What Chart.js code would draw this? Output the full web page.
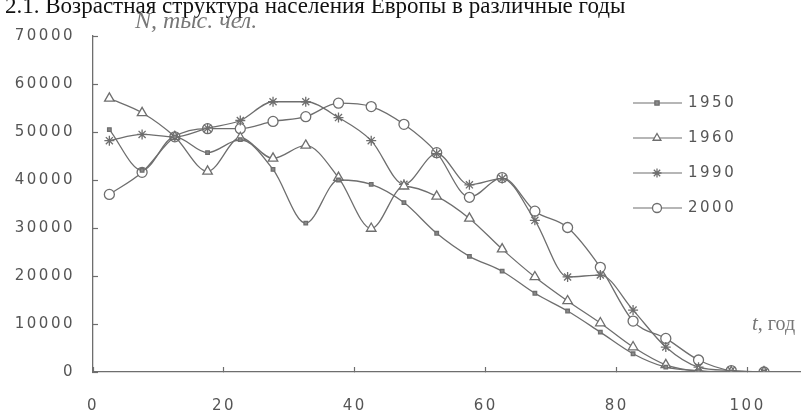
<!DOCTYPE html>
<html>
<head>
<meta charset="utf-8">
<script src="https://cdn.jsdelivr.net/npm/chart.js@4.4.1/dist/chart.umd.min.js"></script>
<style>
  html, body { margin: 0; padding: 0; background: #fff; }
  #wrap { width: 812px; height: 412px; position: relative; overflow: hidden; }
</style>
</head>
<body>
<div id="wrap"><canvas id="ageChart" width="812" height="412"></canvas></div>
<script>
// Age group midpoints, years
const ages = [2.5, 7.5, 12.5, 17.5, 22.5, 27.5, 32.5, 37.5, 42.5, 47.5, 52.5,
              57.5, 62.5, 67.5, 72.5, 77.5, 82.5, 87.5, 92.5, 97.5, 102.5];

const years = ['1950', '1960', '1990', '2000'];

// Population by age group, thousands
const pop1950 = [50500, 42000, 49000, 45700, 48400, 42200, 31000, 40000, 39100, 35300, 28900,
                 24100, 21000, 16400, 12700, 8300, 3800, 1000, 300, 0, 0];
const pop1960 = [57000, 54000, 49000, 41800, 48800, 44500, 47200, 40500, 29900, 38700, 36600,
                 32000, 25600, 19800, 14800, 10200, 5200, 1500, 200, 0, 0];
const pop1990 = [48200, 49500, 49000, 50800, 52400, 56300, 56300, 53000, 48200, 39100, 45500,
                 39000, 40300, 31600, 19800, 20200, 12900, 5200, 1000, 300, 0];
const pop2000 = [37000, 41600, 49000, 50700, 50700, 52200, 53200, 56000, 55300, 51600, 45700,
                 36400, 40500, 33500, 30100, 21800, 10600, 7000, 2500, 300, 0];

const xTicks = [0, 20, 40, 60, 80, 100];
const yTicks = [0, 10000, 20000, 30000, 40000, 50000, 60000, 70000];

const INK = '#6e6e6e';
const TEXT = '#555';
const NUM_FONT = { family: 'DejaVu Sans', size: 15 };

function series(label, values, pointStyle, radius, fill) {
  return {
    label,
    data: values.map((v, i) => ({ x: ages[i], y: v })),
    borderColor: INK,
    borderWidth: 1.3,
    backgroundColor: fill,
    pointStyle,
    pointRadius: radius,
    pointBorderWidth: 1.3,
    pointBorderColor: INK,
    pointBackgroundColor: fill,
    cubicInterpolationMode: 'monotone',
    fill: false
  };
}

// titles, axis names and the stacked legend on the right
const decor = {
  id: 'decor',
  beforeDraw(chart) {
    chart.ctx.letterSpacing = '2.5px';
  },
  afterDraw(chart) {
    const ctx = chart.ctx;
    ctx.save();

    // figure caption, cut by the top edge
    ctx.letterSpacing = '0px';
    ctx.fillStyle = '#111';
    ctx.font = '23px "Liberation Serif", serif';
    ctx.textBaseline = 'alphabetic';
    ctx.textAlign = 'left';
    const pre = 'Рис. ';
    const off = ctx.measureText(pre).width;
    ctx.fillText(pre + '2.1. Возрастная структура населения Европы в различные годы', 5 - off, 13);

    // axis names
    ctx.fillStyle = '#777';
    ctx.font = 'italic 24px "Liberation Serif", serif';
    ctx.fillText('N, тыс. чел.', 135, 28);

    ctx.font = 'italic 21px "Liberation Serif", serif';
    ctx.fillText('t', 752, 330);
    const tw = ctx.measureText('t').width;
    ctx.font = '20px "Liberation Serif", serif';
    ctx.fillText(', год', 752 + tw, 330);

    // legend
    ctx.font = NUM_FONT.size + 'px "DejaVu Sans", sans-serif';
    ctx.letterSpacing = '2.5px';
    ctx.textBaseline = 'middle';
    chart.data.datasets.forEach((ds, i) => {
      const y = 103 + 35 * i;
      ctx.strokeStyle = INK;
      ctx.lineWidth = 1.2;
      ctx.beginPath();
      ctx.moveTo(633, y);
      ctx.lineTo(682, y);
      ctx.stroke();
      const o = chart.getDatasetMeta(i).data[0].options;
      ctx.fillStyle = o.backgroundColor;
      ctx.strokeStyle = o.borderColor;
      ctx.lineWidth = o.borderWidth;
      Chart.helpers.drawPoint(ctx, {
        pointStyle: o.pointStyle,
        radius: i === 0 ? 3 : 4.5,
        rotation: 0,
        borderWidth: o.borderWidth
      }, 657, y);
      ctx.fillStyle = TEXT;
      ctx.fillText(ds.label, 688, y);
    });
    ctx.restore();
  }
};

new Chart(document.getElementById('ageChart'), {
  type: 'line',
  data: {
    datasets: [
      series(years[0], pop1950, 'rect', 2.5, '#8a8a8a'),
      series(years[1], pop1960, 'triangle', 5.5, '#fff'),
      series(years[2], pop1990, 'star', 5, '#fff'),
      series(years[3], pop2000, 'circle', 5, '#fff')
    ]
  },
  options: {
    responsive: false,
    animation: false,
    layout: { padding: { top: 36, right: 12, left: 0, bottom: 0 } },
    plugins: {
      legend: { display: false },
      tooltip: { enabled: false }
    },
    scales: {
      x: {
        type: 'linear',
        min: 0,
        max: 108,
        afterBuildTicks: scale => { scale.ticks = xTicks.map(v => ({ value: v })); },
        afterFit: scale => { scale.height = 40; },
        border: { color: INK, width: 1.3 },
        grid: { drawOnChartArea: false, tickLength: -5, color: INK, tickWidth: 1.2 },
        ticks: {
          padding: 30,
          color: TEXT,
          font: NUM_FONT,
          maxRotation: 0,
          callback: v => String(v)
        }
      },
      y: {
        min: 0,
        max: 70000,
        afterBuildTicks: scale => { scale.ticks = yTicks.map(v => ({ value: v })); },
        afterFit: scale => { scale.width = 93; },
        border: { color: INK, width: 1.3 },
        grid: { drawOnChartArea: false, tickLength: -5, color: INK, tickWidth: 1.2 },
        ticks: {
          padding: 23,
          color: TEXT,
          font: NUM_FONT,
          callback: v => String(v)
        }
      }
    }
  },
  plugins: [decor]
});
</script>
</body>
</html>
